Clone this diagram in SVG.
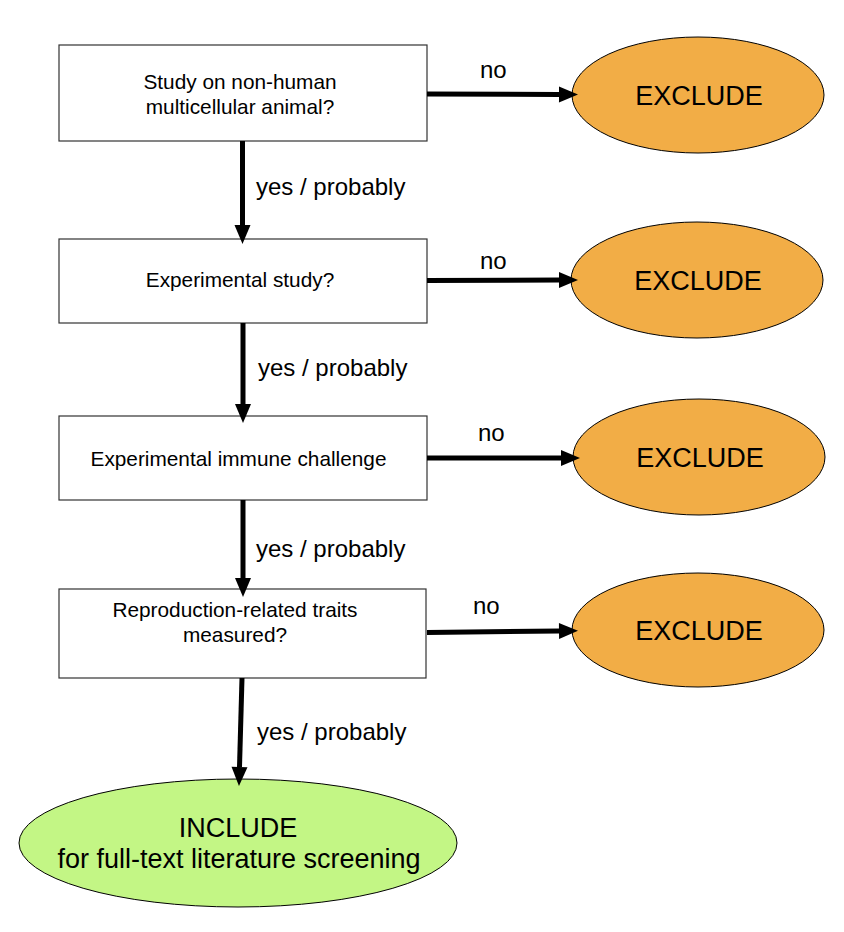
<svg xmlns="http://www.w3.org/2000/svg" width="844" height="932" viewBox="0 0 844 932">
<style>
  .box { fill: #ffffff; stroke: #333333; stroke-width: 1.2; }
  .excl { fill: #F2AD46; stroke: #000000; stroke-width: 1; }
  .incl { fill: #C3F685; stroke: #000000; stroke-width: 1; }
  .t { font-family: "Liberation Sans", Arial, Helvetica, sans-serif; fill: #000000; text-anchor: middle; }
  .bt { font-size: 20.8px; }
  .et { font-size: 27px; }
  .lbl { font-family: "Liberation Sans", Arial, Helvetica, sans-serif; fill: #000000; font-size: 24px; }
  .conn { stroke: #000000; stroke-width: 5; fill: none; }
</style>
<defs>
  <marker id="ah" markerUnits="userSpaceOnUse" markerWidth="20" markerHeight="18" refX="0" refY="8" orient="auto" overflow="visible">
    <path d="M0,0 L19,8 L0,16 Z" fill="#000000"/>
  </marker>
</defs>
<rect width="844" height="932" fill="#ffffff"/>

<g id="q1">
  <rect class="box" x="59" y="45" width="368" height="96"/>
  <text class="t bt" x="240" y="89">Study on non-human</text>
  <text class="t bt" x="240" y="114">multicellular animal?</text>
</g>
<g id="q2">
  <rect class="box" x="59" y="239" width="368" height="84"/>
  <text class="t bt" x="240" y="287">Experimental study?</text>
</g>
<g id="q3">
  <rect class="box" x="59" y="416" width="368" height="84"/>
  <text class="t bt" x="238.5" y="466">Experimental immune challenge</text>
</g>
<g id="q4">
  <rect class="box" x="59" y="589" width="367" height="89"/>
  <text class="t bt" x="235" y="617">Reproduction-related traits</text>
  <text class="t bt" x="235" y="642">measured?</text>
</g>

<g id="ex1">
  <ellipse class="excl" cx="698" cy="95" rx="126" ry="58"/>
  <text class="t et" x="699" y="105">EXCLUDE</text>
</g>
<g id="ex2">
  <ellipse class="excl" cx="697" cy="280" rx="126" ry="58"/>
  <text class="t et" x="698" y="290">EXCLUDE</text>
</g>
<g id="ex3">
  <ellipse class="excl" cx="699" cy="457" rx="126" ry="58"/>
  <text class="t et" x="700" y="467">EXCLUDE</text>
</g>
<g id="ex4">
  <ellipse class="excl" cx="698" cy="630" rx="126" ry="57"/>
  <text class="t et" x="699" y="640">EXCLUDE</text>
</g>

<g id="include">
  <ellipse class="incl" cx="238" cy="843" rx="219" ry="64"/>
  <text class="t et" x="238" y="837">INCLUDE</text>
  <text class="t et" x="239" y="868">for full-text literature screening</text>
</g>

<g id="connectors">
  <path class="conn" d="M242.5,141 L242.5,225" marker-end="url(#ah)"/>
  <path class="conn" d="M243,323 L243,404" marker-end="url(#ah)"/>
  <path class="conn" d="M243,500 L243,578" marker-end="url(#ah)"/>
  <path class="conn" d="M242,678 L239.5,767" marker-end="url(#ah)"/>
  <path class="conn" d="M427,94 L559,94.5" marker-end="url(#ah)"/>
  <path class="conn" d="M427,280.5 L559,280" marker-end="url(#ah)"/>
  <path class="conn" d="M427,458 L561,458" marker-end="url(#ah)"/>
  <path class="conn" d="M427,632.5 L559,631" marker-end="url(#ah)"/>
  <text class="lbl" x="256" y="195">yes / probably</text>
  <text class="lbl" x="258" y="376">yes / probably</text>
  <text class="lbl" x="256" y="557">yes / probably</text>
  <text class="lbl" x="257" y="740">yes / probably</text>
  <text class="lbl" x="480" y="78">no</text>
  <text class="lbl" x="480" y="269">no</text>
  <text class="lbl" x="478" y="441">no</text>
  <text class="lbl" x="473" y="614">no</text>
</g>
</svg>
